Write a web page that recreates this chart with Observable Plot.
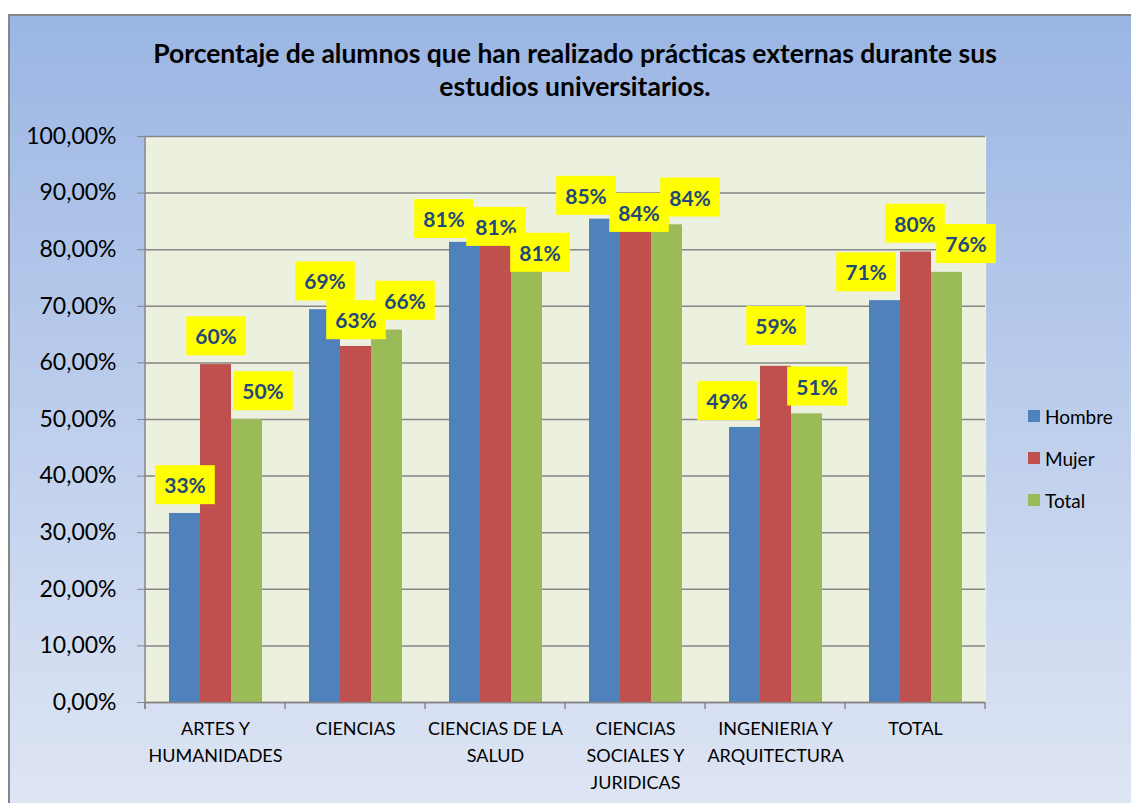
<!DOCTYPE html>
<html>
<head>
<meta charset="utf-8">
<script src="https://cdn.jsdelivr.net/npm/d3@7"></script>
<script src="https://cdn.jsdelivr.net/npm/@observablehq/plot@0.6"></script>
<style>
  body { margin: 0; background: #ffffff; font-family: Lato, sans-serif; }
  #wrap { position: relative; width: 1131px; height: 803px; overflow: hidden; }
  #bg { position: absolute; left: 8px; top: 14px; width: 1140px; height: 800px;
        border-left: 2px solid #878787; border-top: 2px solid #878787;
        background: linear-gradient(#9bb6e4, #dfe6f4); }
  #title { position: absolute; left: 0; top: 37px; width: 1150px; text-align: center;
           font-weight: bold; font-size: 26.5px; line-height: 33px; color: #000; }
  #chart { position: absolute; left: 0; top: 0; }
  #legend { position: absolute; left: 1028px; top: 395px; font-size: 19px; color: #000; }
  .item { height: 42px; display: flex; align-items: center; }
  .sw { width: 12px; height: 12px; margin-right: 5px; }
</style>
</head>
<body>
<div id="wrap">
  <div id="bg"></div>
  <div id="chart"></div>
  <div id="title">Porcentaje de alumnos que han realizado prácticas externas durante sus<br>estudios universitarios.</div>
  <div id="legend"></div>
</div>
<script>
const categories = [
  "ARTES Y\nHUMANIDADES",
  "CIENCIAS",
  "CIENCIAS DE LA\nSALUD",
  "CIENCIAS\nSOCIALES Y\nJURIDICAS",
  "INGENIERIA Y\nARQUITECTURA",
  "TOTAL"
];
const series = ["Hombre", "Mujer", "Total"];
const hombre = [33.4, 69.4, 81.3, 85.4, 48.6, 71.0];
const mujer  = [59.7, 62.9, 80.8, 83.8, 59.4, 79.6];
const total  = [50.0, 65.8, 81.0, 84.4, 51.0, 76.0];
const colors = ["#4f81bd", "#c0504d", "#9bbb59"];
const yTicks = [0, 10, 20, 30, 40, 50, 60, 70, 80, 90, 100];

// presentation: pixel nudges of each value label (category-major, series-minor),
// mirroring the manual label placement of the original chart
const labelNudge = [
  [0, 0], [0, 0], [16, 0],
  [0, 0], [0, 2], [18, -1],
  [-21, 5], [0, 10], [13, 37],
  [-19, 5], [3, 13], [23, 1],
  [-18, 2], [0, -12], [10, 1],
  [-19, 0], [-1, 0], [19, 0]
];

const seriesValues = [hombre, mujer, total];
const rows = categories.flatMap((c, i) =>
  series.map((s, j) => ({ cat: c, serie: s, value: seriesValues[j][i] }))
);

const LABEL_COLOR = "#1f497d";

const chart = Plot.plot({
  width: 1131,
  height: 803,
  marginLeft: 143,
  marginRight: 144,
  marginTop: 136,
  marginBottom: 101,
  style: { background: "transparent", fontFamily: "Lato, sans-serif", overflow: "visible" },
  fx: { domain: categories, padding: 0, label: null },
  x: { domain: series, paddingInner: 0, paddingOuter: 0.75, axis: null },
  y: { domain: [0, 100], axis: null },
  color: { domain: series, range: colors },
  marks: [
    Plot.frame({ fill: "#ecf0df", stroke: "none", insetLeft: -0.6, insetRight: -0.6 }),
    Plot.gridY(yTicks, { stroke: "#868686", strokeOpacity: 1, strokeWidth: 1.5 }),
    Plot.barY(rows, { fx: "cat", x: "serie", y: "value", fill: "serie" }),
    Plot.ruleY([0], { stroke: "#868686", strokeWidth: 1.5 }),
    Plot.axisY(yTicks, {
      tickFormat: d => d.toFixed(2).replace(".", ",") + "%",
      tickSize: 8, tickPadding: 21, fontSize: 23,
      stroke: "#868686", strokeOpacity: 1, fill: "#000", label: null
    }),
    Plot.axisFx({
      anchor: "bottom", tickSize: 0, tickPadding: 13, fontSize: 18,
      lineHeight: 1.5, fill: "#000", label: null
    }),
    Plot.text(rows, {
      fx: "cat", x: "serie", y: "value",
      text: d => Math.round(d.value) + "%",
      dy: -27, fontSize: 21, fontWeight: "bold", fill: LABEL_COLOR
    })
  ]
});

document.getElementById("chart").appendChild(chart);

// yellow boxes behind value labels (+ label nudges)
const NS = "http://www.w3.org/2000/svg";
const labelTexts = Array.from(chart.querySelectorAll("text")).filter(t => {
  let n = t;
  while (n && n !== chart) {
    if (n.getAttribute && n.getAttribute("fill") === LABEL_COLOR) return true;
    n = n.parentNode;
  }
  return false;
});
labelTexts.forEach(function (txt, k) {
  const b = txt.getBBox();
  const [ndx, ndy] = labelNudge[k] || [0, 0];
  const t = (txt.getAttribute("transform") || "") + ` translate(${ndx},${ndy})`;
  txt.setAttribute("transform", t);
  const r = document.createElementNS(NS, "rect");
  r.setAttribute("x", b.x - 9);
  r.setAttribute("y", b.y - 7);
  r.setAttribute("width", b.width + 18);
  r.setAttribute("height", b.height + 14);
  r.setAttribute("fill", "#ffff00");
  r.setAttribute("transform", t);
  txt.parentNode.insertBefore(r, txt);
});

// left axis line and category boundary ticks from the library's scales
const fxS = chart.scale("fx"), yS = chart.scale("y");
const y0 = yS.apply(0), y100 = yS.apply(100);
const bounds = categories.map(c => fxS.apply(c));
bounds.push(fxS.apply(categories[categories.length - 1]) + fxS.bandwidth);
const g = d3.select(chart).append("g").attr("stroke", "#868686").attr("stroke-width", 1.5);
g.append("line").attr("x1", bounds[0]).attr("x2", bounds[0]).attr("y1", y100).attr("y2", y0 + 7);
bounds.forEach(x => g.append("line").attr("x1", x).attr("x2", x).attr("y1", y0).attr("y2", y0 + 7));

// legend
const leg = d3.select("#legend");
series.forEach((s, i) => {
  const it = leg.append("div").attr("class", "item");
  it.append("div").attr("class", "sw").style("background", colors[i]);
  it.append("span").text(s);
});
</script>
</body>
</html>
